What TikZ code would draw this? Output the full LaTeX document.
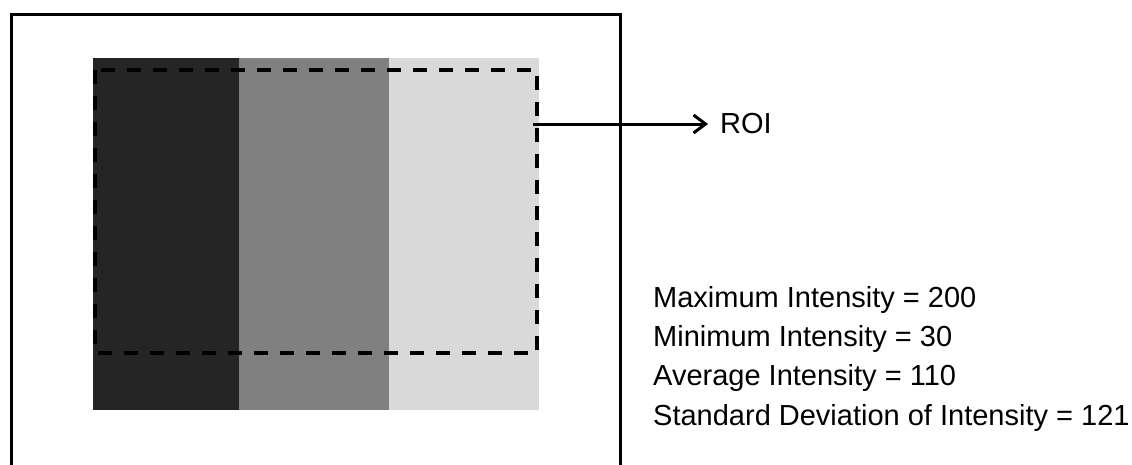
\documentclass[tikz,border=0pt]{standalone}
\usepackage{fontspec}
\setmainfont{Liberation Sans}
\usetikzlibrary{arrows.meta,positioning}
\definecolor{darkstripe}{HTML}{252525}
\definecolor{midstripe}{HTML}{808080}
\definecolor{lightstripe}{HTML}{D9D9D9}
\begin{document}
\begin{tikzpicture}[
  x=1pt, y=-1pt,
  frame/.style={draw, line width=3pt},
  roibox/.style={draw, line width=3.2pt, dash pattern=on 14pt off 12pt},
  stat/.style={anchor=base west, inner sep=0pt, font=\fontsize{29}{34}\selectfont}
]
\useasboundingbox (0,0) rectangle (1132,464);
% image with three stripes
\fill[darkstripe] (93,58) rectangle (239,410);
\fill[midstripe] (239,58) rectangle (389,410);
\fill[lightstripe] (389,58) rectangle (539,410);
\draw[frame] (11,466) |- (620,14) -- (620,466);
% region of interest
\draw[roibox] (95,70) rectangle (537,353);
\coordinate (roi) at (533,124);
\node[stat, anchor=west, inner xsep=12pt] (roilabel) at (708,124) {ROI};
\draw[line width=3pt, -{Straight Barb[length=12pt,width=18pt]}] (roi) -- (roilabel.west);
% statistics
\node[stat] (maxi) at (653,307) {Maximum Intensity = 200};
\node[stat, below=12pt of maxi.south west, anchor=north west] (mini) {Minimum Intensity = 30};
\node[stat, below=12pt of mini.south west, anchor=north west] (avg) {Average Intensity = 110};
\node[stat, below=12pt of avg.south west, anchor=north west] (std) {Standard Deviation of Intensity = 121};
\end{tikzpicture}
\end{document}
